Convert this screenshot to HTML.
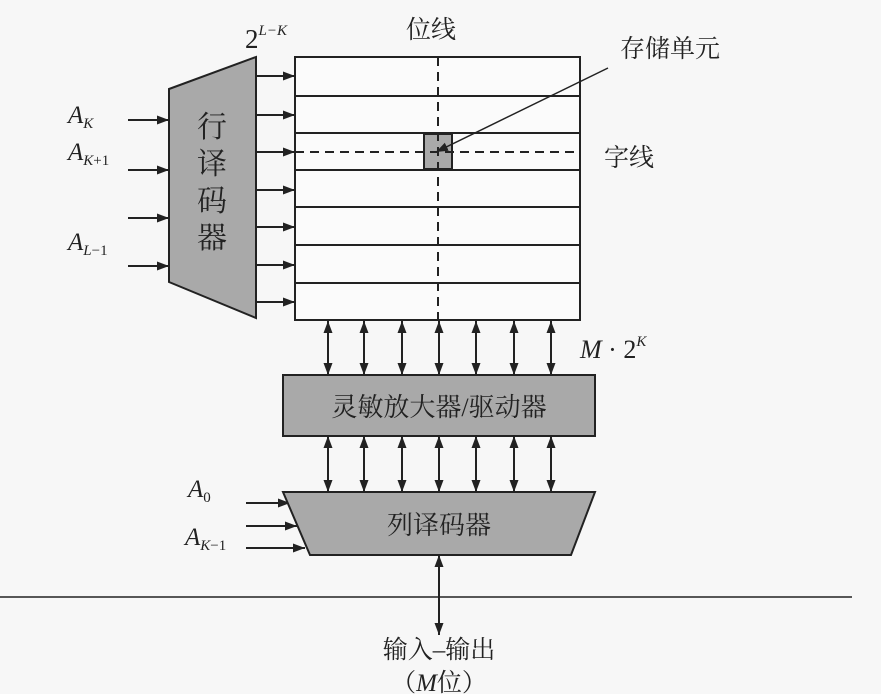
<!DOCTYPE html>
<html><head><meta charset="utf-8"><style>
html,body{margin:0;padding:0;background:#f7f7f7;}
svg{display:block;}
text{font-family:"Liberation Serif","Noto Serif CJK SC",serif;fill:#222;}
.cjk{font-family:"Liberation Serif","Noto Serif CJK SC",serif;}
</style></head><body>
<svg width="881" height="694" viewBox="0 0 881 694" xmlns="http://www.w3.org/2000/svg">
<defs>
<marker id="ah" markerWidth="12" markerHeight="9" refX="12" refY="4.5" orient="auto" markerUnits="userSpaceOnUse">
<path d="M0,0 L12,4.5 L0,9 Z" fill="#222"/></marker>
<marker id="as" markerWidth="12" markerHeight="9" refX="0" refY="4.5" orient="auto" markerUnits="userSpaceOnUse">
<path d="M12,0 L0,4.5 L12,9 Z" fill="#222"/></marker>
</defs>
<rect width="881" height="694" fill="#f7f7f7"/>
<g stroke="#222" stroke-width="2">
<polygon points="169,89 256,57 256,318 169,282" fill="#a9a9a9"/>
<rect x="295" y="57" width="285" height="263" fill="#fbfbfb"/>
<line x1="295" y1="96" x2="580" y2="96"/>
<line x1="295" y1="133" x2="580" y2="133"/>
<line x1="295" y1="170" x2="580" y2="170"/>
<line x1="295" y1="207" x2="580" y2="207"/>
<line x1="295" y1="245" x2="580" y2="245"/>
<line x1="295" y1="283" x2="580" y2="283"/>
<rect x="424" y="134" width="28" height="35" fill="#a9a9a9"/>
<line x1="295" y1="152" x2="580" y2="152" stroke-dasharray="9,6"/>
<line x1="438" y1="57" x2="438" y2="320" stroke-dasharray="9,6"/>
<line x1="608" y1="68" x2="436" y2="152" stroke-width="1.5" marker-end="url(#ah)"/>
<g marker-end="url(#ah)">
<line x1="256" y1="76" x2="295" y2="76"/><line x1="256" y1="115" x2="295" y2="115"/>
<line x1="256" y1="152" x2="295" y2="152"/><line x1="256" y1="190" x2="295" y2="190"/>
<line x1="256" y1="227" x2="295" y2="227"/><line x1="256" y1="265" x2="295" y2="265"/>
<line x1="256" y1="302" x2="295" y2="302"/>
<line x1="128" y1="120" x2="169" y2="120"/><line x1="128" y1="170" x2="169" y2="170"/>
<line x1="128" y1="218" x2="169" y2="218"/><line x1="128" y1="266" x2="169" y2="266"/>
<line x1="246" y1="503" x2="290" y2="503"/><line x1="246" y1="526" x2="297" y2="526"/>
<line x1="246" y1="548" x2="305" y2="548"/>
</g>
<g marker-end="url(#ah)" marker-start="url(#as)">
<line x1="328" y1="321" x2="328" y2="375"/><line x1="364" y1="321" x2="364" y2="375"/>
<line x1="402" y1="321" x2="402" y2="375"/><line x1="439" y1="321" x2="439" y2="375"/>
<line x1="476" y1="321" x2="476" y2="375"/><line x1="514" y1="321" x2="514" y2="375"/>
<line x1="551" y1="321" x2="551" y2="375"/>
<line x1="328" y1="436" x2="328" y2="492"/><line x1="364" y1="436" x2="364" y2="492"/>
<line x1="402" y1="436" x2="402" y2="492"/><line x1="439" y1="436" x2="439" y2="492"/>
<line x1="476" y1="436" x2="476" y2="492"/><line x1="514" y1="436" x2="514" y2="492"/>
<line x1="551" y1="436" x2="551" y2="492"/>
<line x1="439" y1="555" x2="439" y2="635"/>
</g>
<rect x="283" y="375" width="312" height="61" fill="#a9a9a9"/>
<polygon points="283,492 595,492 571,555 310,555" fill="#a9a9a9"/>
<line x1="0" y1="597" x2="852" y2="597" stroke-width="1.5"/>
</g>
<text x="245" y="48" font-size="27">2<tspan font-size="15" font-style="italic" dy="-13">L−K</tspan></text>
<text x="406" y="38" font-size="25" class="cjk">位线</text>
<text x="620" y="57" font-size="25" class="cjk">存储单元</text>
<text x="604" y="166" font-size="25" class="cjk">字线</text>
<g font-size="30" text-anchor="middle">
<text x="212" y="137" class="cjk">行</text><text x="212" y="174" class="cjk">译</text>
<text x="212" y="211" class="cjk">码</text><text x="212" y="248" class="cjk">器</text>
</g>
<text x="68" y="123" font-size="25" font-style="italic">A<tspan font-size="15" dy="5">K</tspan></text>
<text x="68" y="160" font-size="25" font-style="italic">A<tspan font-size="15" dy="5">K<tspan font-style="normal">+1</tspan></tspan></text>
<text x="68" y="250" font-size="25" font-style="italic">A<tspan font-size="15" dy="5">L<tspan font-style="normal">−1</tspan></tspan></text>
<text x="580" y="358" font-size="26" font-style="italic">M<tspan font-style="normal"> · 2</tspan><tspan font-size="15" dy="-12">K</tspan></text>
<text x="439" y="416" font-size="26" text-anchor="middle" class="cjk">灵敏放大器/驱动器</text>
<text x="439" y="534" font-size="26" text-anchor="middle" class="cjk">列译码器</text>
<text x="188" y="497" font-size="25" font-style="italic">A<tspan font-size="15" dy="5" font-style="normal">0</tspan></text>
<text x="185" y="545" font-size="25" font-style="italic">A<tspan font-size="15" dy="5">K<tspan font-style="normal">−1</tspan></tspan></text>
<text x="439" y="658" font-size="25" text-anchor="middle" class="cjk">输入–输出</text>
<text x="439" y="691" font-size="25" text-anchor="middle" class="cjk">（<tspan font-style="italic">M</tspan>位）</text>
</svg>
</body></html>
